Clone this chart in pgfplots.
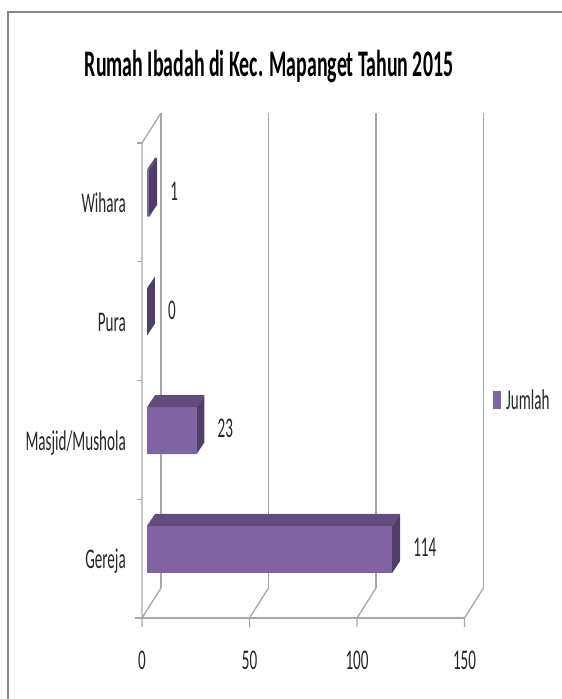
\documentclass[border=0pt]{standalone}
\usepackage{fontspec}
\setmainfont{Carlito}[FakeStretch=0.53]
\usepackage{pgfplots}
\pgfplotsset{compat=1.18}
\definecolor{barfront}{RGB}{128,100,162}
\definecolor{bartop}{RGB}{98,76,126}
\definecolor{barside}{RGB}{80,62,104}
\definecolor{gridc}{RGB}{166,166,166}
\definecolor{framec}{RGB}{134,134,134}
\newcommand{\lbl}{\fontsize{28.5}{30}\selectfont}
\begin{document}
\begin{tikzpicture}[x=1pt,y=1pt]
\draw[framec, line width=2pt] (8,-2) -- (8,687) -- (564,687);
\begin{scope}[gridc, line width=1.3pt]
\foreach \v in {0,50,100,150} {
  \draw (161+2.15*\v,111) -- (161+2.15*\v,586);
  \draw (142+2.15*\v,72) -- (142+2.15*\v,81) -- (161+2.15*\v,111);
}
\draw (135,81) -- (464.5,81);
\draw (142,81) -- (142,556) -- (161,586);
\foreach \y in {556,437.25,318.5,199.75} \draw (137,\y) -- (142,\y);
\end{scope}
\node[anchor=base, font=\fontsize{37.5}{40}\selectfont\bfseries, text=black] at (269,622) {Rumah Ibadah di Kec. Mapanget Tahun 2015};
\begin{axis}[
  anchor=origin, at={(147pt,149.5pt)},
  x=2.15pt, y=118.75pt,
  xmin=-2.33, xmax=150, ymin=-0.5768, ymax=3.423,
  clip=false,
  axis lines*=left, axis line style={draw=none}, tick style={draw=none},
  xtick={0,50,100,150}, ytick={0,1,2,3},
  yticklabels={Gereja,Masjid/Mushola,Pura,Wihara},
  /pgf/number format/assume math mode=true,
  tick label style={font=\lbl, inner sep=0pt, text=black!85},
  xticklabel style={anchor=center, xshift=-5pt, yshift=-42pt},
  yticklabel style={anchor=base east, xshift=-16pt, yshift=-19.5pt},
  legend style={at={(axis cs:160.93,1.259)}, anchor=west, draw=none, fill=none,
    inner sep=0pt, outer sep=0pt, font=\lbl, text=black!85, nodes={inner sep=0pt}},
  legend image code/.code={\fill[barfront] (0pt,-9pt) rectangle (8pt,9pt); \path (13pt,0pt);},
]
\addplot[xbar, bar width=47pt, bar shift=0pt, fill=barfront, draw=none,
  nodes near coords,
  every node near coord/.append style={anchor=west, xshift=21pt, yshift=2pt, font=\lbl, inner sep=0pt, text=black!85}]
  coordinates {(114,0) (23,1) (0,2) (1,3)};
\addlegendentry{Jumlah}
% top faces
\addplot[forget plot, fill=bartop, draw=none] coordinates {(0,0.198) (114,0.198) (117.72,0.299) (3.72,0.299)} -- cycle;
\addplot[forget plot, fill=bartop, draw=none] coordinates {(0,1.198) (23,1.198) (26.72,1.299) (3.72,1.299)} -- cycle;
\addplot[forget plot, fill=bartop, draw=none] coordinates {(0,3.198) (1,3.198) (4.72,3.299) (3.72,3.299)} -- cycle;
% right faces
\addplot[forget plot, fill=barside, draw=none] coordinates {(114,-0.198) (114,0.198) (117.72,0.299) (117.72,-0.097)} -- cycle;
\addplot[forget plot, fill=barside, draw=none] coordinates {(23,0.802) (23,1.198) (26.72,1.299) (26.72,0.903)} -- cycle;
\addplot[forget plot, fill=barside, draw=none] coordinates {(0,1.802) (0,2.198) (3.72,2.299) (3.72,1.903)} -- cycle;
\addplot[forget plot, fill=barside, draw=none] coordinates {(1,2.802) (1,3.198) (4.72,3.299) (4.72,2.903)} -- cycle;
\end{axis}
\pgfresetboundingbox
\path[use as bounding box] (0,0) rectangle (562,699);
\end{tikzpicture}
\end{document}
